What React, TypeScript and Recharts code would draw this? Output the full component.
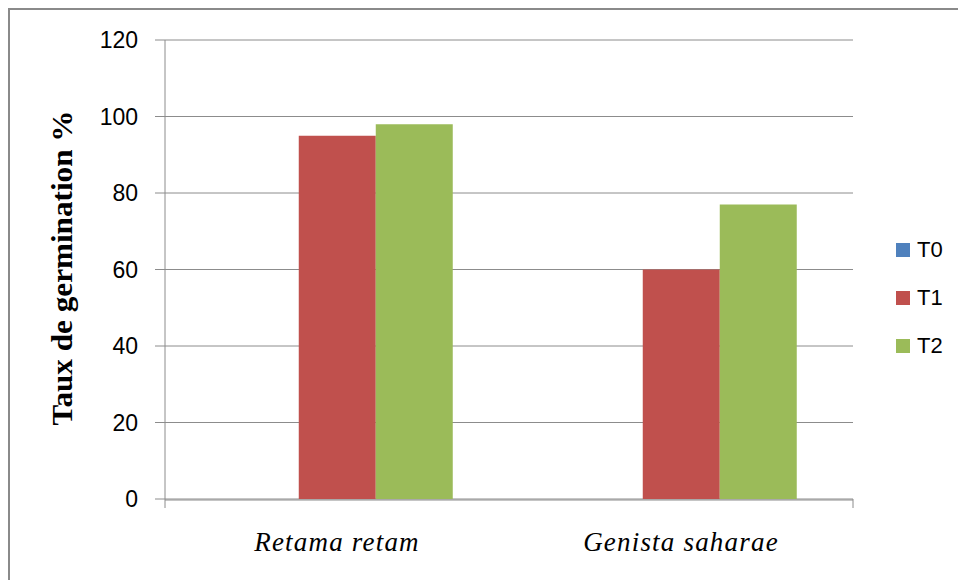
import {BarChart, Bar, XAxis, YAxis, CartesianGrid} from 'recharts';

const species = ['Retama retam', 'Genista saharae'];
const seriesNames = ['T0', 'T1', 'T2'];
const seriesColors = ['#4F81BD', '#C0504D', '#9BBB59'];
const t0 = [0, 0];
const t1 = [95, 60];
const t2 = [98, 77];
const yTicks = [0, 20, 40, 60, 80, 100, 120];

const data = species.map((name, i) => ({name, T0: t0[i], T1: t1[i], T2: t2[i]}));

const axisGray = '#8c8c8c';

function YTitle() {
    return (
        <text x={62} y={268} transform="rotate(-90 62 268)" textAnchor="middle" dominantBaseline="central"
              fontFamily="'Liberation Serif', serif" fontWeight="bold" fontSize={29} fill="#000"
              textLength={315} lengthAdjust="spacingAndGlyphs">
            Taux de germination %
        </text>
    );
}

function SpeciesTick({x, y, payload}: any) {
    return (
        <text x={x} y={y} dy={31} textAnchor="middle" fontFamily="'Liberation Serif', serif" fontStyle="italic"
              fontSize={27} letterSpacing={1.2} fill="#000">
            {payload.value}
        </text>
    );
}

export default function App() {
    return (
        <div style={{position: 'absolute', left: 0, top: 0, width: 958, height: 580, overflow: 'hidden', background: '#fff'}}>
            <div style={{position: 'absolute', left: 8, top: 8, width: 970, height: 600, border: '2px solid #8a8a8a'}}/>
            <div style={{position: 'absolute', left: 0, top: 0}}>
                <BarChart width={958} height={580} data={data}
                          margin={{top: 40, right: 105, left: 0, bottom: 21}}
                          barCategoryGap="16.5%" barGap={0}>
                    <CartesianGrid xAxisId="cat" vertical={false} stroke={axisGray} strokeDasharray=""/>
                    <XAxis xAxisId="bounds" type="number" domain={[0, 2]} ticks={[0, 1, 2]} allowDataOverflow
                           height={1} axisLine={false} tickFormatter={() => ''} tickSize={9}
                           tickLine={{stroke: axisGray}}/>
                    <XAxis xAxisId="cat" dataKey="name" height={59} tickLine={false} axisLine={{stroke: axisGray}}
                           tickMargin={14} tick={<SpeciesTick/>}/>
                    <YAxis width={165} domain={[0, 120]} ticks={yTicks} tickSize={10} tickMargin={17}
                           axisLine={{stroke: axisGray}} tickLine={{stroke: axisGray}}
                           tick={{fontFamily: "'Liberation Sans', sans-serif", fontSize: 23, fill: '#000'}}
                           label={{content: () => <YTitle/>}}/>
                    {seriesNames.map((s, i) => (
                        <Bar key={s} xAxisId="cat" dataKey={s} fill={seriesColors[i]} isAnimationActive={false}/>
                    ))}
                </BarChart>
            </div>
            {seriesNames.map((s, i) => (
                <div key={s} style={{position: 'absolute', left: 896, top: 236 + i * 48, height: 28, display: 'flex', alignItems: 'center',
                    fontFamily: "'Liberation Sans', sans-serif", fontSize: 22, color: '#000'}}>
                    <span style={{display: 'inline-block', width: 14, height: 14, background: seriesColors[i], marginRight: 7}}/>
                    {s}
                </div>
            ))}
        </div>
    );
}
